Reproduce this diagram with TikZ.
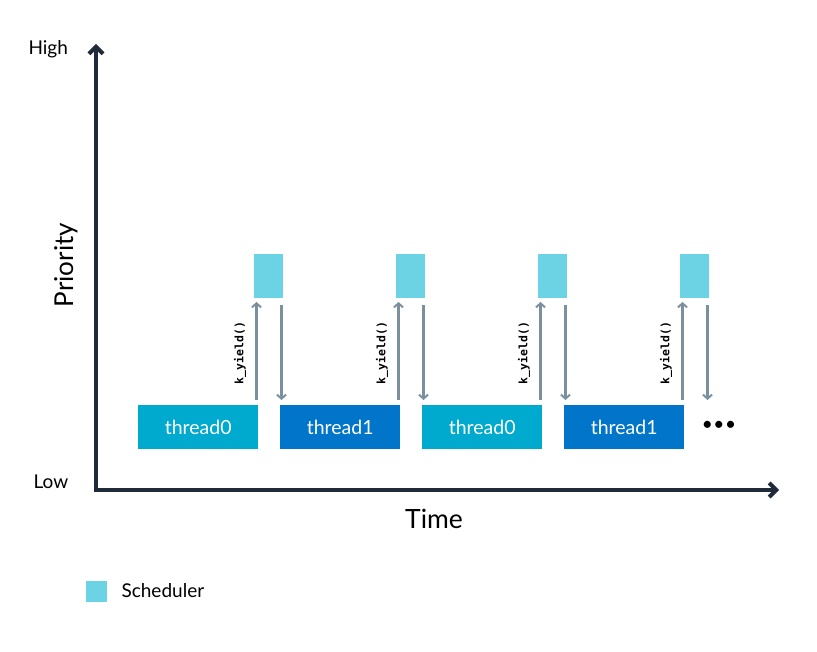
\documentclass[tikz,border=0pt]{standalone}
\usepackage{fontspec}
\setmainfont{Lato}
\newfontfamily\monofont{DejaVu Sans Mono}
\usetikzlibrary{arrows.meta}
\definecolor{axiscol}{HTML}{1F2A3A}
\definecolor{tzero}{HTML}{00A9CE}
\definecolor{tone}{HTML}{0075C9}
\definecolor{schedcol}{HTML}{6BD3E4}
\definecolor{arrcol}{HTML}{7A909E}
\tikzset{
  axisline/.style={draw=axiscol, line width=4.5pt, -{Straight Barb[length=7pt,width=14pt,line width=4pt]}},
  threadbox/.style={minimum width=120pt, minimum height=44pt, inner sep=0pt, text=white, font=\fontsize{19.5}{22}\selectfont, anchor=north west},
  schedbox/.style={fill=schedcol, minimum width=29pt, minimum height=44pt, inner sep=0pt, anchor=north west},
  callarrow/.style={draw=arrcol, line width=2.6pt, -{Straight Barb[length=4pt,width=9pt,line width=2pt]}},
  ylabel/.style={font=\monofont\bfseries\fontsize{11.5}{13}\selectfont, rotate=90},
  plaintext/.style={font=\fontsize{19}{22}\selectfont, anchor=west},
}
\begin{document}
\begin{tikzpicture}[x=1pt,y=-1pt]
\useasboundingbox (0,0) rectangle (817,652);
% axes
\coordinate (orig) at (96,490);
\coordinate (ytop) at (96,44);
\coordinate (xend) at (779,490);
\draw[axisline] (96,492.25) -- (ytop);
\draw[axisline] (93.75,490) -- (xend);
\node[plaintext] (high) at (25,49) {High};
\node[plaintext] (low) at (30,482) {Low};
\node[font=\fontsize{26}{30}\selectfont, rotate=90] (prio) at (66,265) {Priority};
\node[font=\fontsize{26.5}{30}\selectfont] (time) at (434,519) {Time};
% threads
\node[threadbox, fill=tzero] (t1) at (138,405) {thread0};
\node[threadbox, fill=tone] (t2) at (280,405) {thread1};
\node[threadbox, fill=tzero] (t3) at (422,405) {thread0};
\node[threadbox, fill=tone] (t4) at (564,405) {thread1};
% schedulers
\foreach \i/\x in {1/254,2/396,3/538,4/680}{
  \node[schedbox] (s\i) at (\x,254) {};
  \coordinate (ua\i) at (\x+2.5,400);
  \coordinate (ub\i) at (\x+2.5,302);
  \coordinate (da\i) at (\x+27.5,305);
  \coordinate (db\i) at (\x+27.5,400);
  \draw[callarrow] (ua\i) -- (ub\i);
  \draw[callarrow] (da\i) -- (db\i);
  \node[ylabel] (k\i) at (\x-14,353) {k\_yield()};
}
\node[font=\fontsize{19}{22}\selectfont] (dots) at (719,426) {\textbullet\kern0.5pt\textbullet\kern0.5pt\textbullet};
% legend
\node[fill=schedcol, minimum width=21pt, minimum height=21pt, inner sep=0pt] (leg) at (96.5,591.5) {};
\node[plaintext] (legt) at (118,591) {Scheduler};
\end{tikzpicture}
\end{document}
